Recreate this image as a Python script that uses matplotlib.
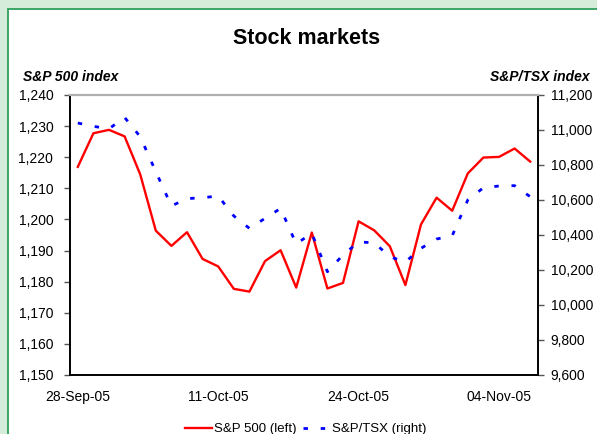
import numpy as np
import matplotlib
matplotlib.use("Agg")
import matplotlib.pyplot as plt
from matplotlib.patches import Rectangle
from matplotlib.ticker import FuncFormatter

plt.rcParams['font.family'] = ['Liberation Sans', 'DejaVu Sans']

# trading days 28-Sep-05 .. 08-Nov-05
dates = ['28-Sep-05', '29-Sep-05', '30-Sep-05', '03-Oct-05', '04-Oct-05', '05-Oct-05',
         '06-Oct-05', '07-Oct-05', '10-Oct-05', '11-Oct-05', '12-Oct-05', '13-Oct-05',
         '14-Oct-05', '17-Oct-05', '18-Oct-05', '19-Oct-05', '20-Oct-05', '21-Oct-05',
         '24-Oct-05', '25-Oct-05', '26-Oct-05', '27-Oct-05', '28-Oct-05', '31-Oct-05',
         '01-Nov-05', '02-Nov-05', '03-Nov-05', '04-Nov-05', '07-Nov-05', '08-Nov-05']

sp500 = [1216.9, 1227.7, 1228.8, 1226.7, 1214.5, 1196.4, 1191.5, 1195.9, 1187.3, 1184.9,
         1177.7, 1176.8, 1186.6, 1190.1, 1178.1, 1195.8, 1177.8, 1179.6, 1199.4, 1196.5,
         1191.4, 1178.9, 1198.4, 1207.0, 1202.8, 1214.8, 1219.9, 1220.1, 1222.8, 1218.6]

tsx = [11040, 11021, 11007, 11072, 10962, 10762, 10566, 10608, 10613, 10623,
       10509, 10438, 10495, 10552, 10349, 10410, 10190, 10286, 10360, 10356,
       10276, 10246, 10324, 10377, 10396, 10600, 10670, 10680, 10682, 10619]

tick_idx = [0, 9, 18, 27]

fig = plt.figure(figsize=(5.97, 4.34), dpi=100)
fig.patch.set_facecolor('#d5ecda')
# white chart panel with green frame, behind the axes
fig.add_artist(Rectangle((8 / 597, -0.01), 1, 1.01 - 9 / 434, transform=fig.transFigure,
                         facecolor='white', edgecolor='#2e9e5b', linewidth=1.3, zorder=-5))

ax = fig.add_axes([70 / 597, 1 - 375 / 434, (538 - 70) / 597, (375 - 95) / 434])
x = np.arange(len(dates))
l1, = ax.plot(x, sp500, color='#ff0000', linewidth=1.7)
ax.set_xlim(-0.5, len(dates) - 0.5)
ax.set_ylim(1150, 1240)
ax.set_yticks(np.arange(1150, 1241, 10))
ax.yaxis.set_major_formatter(FuncFormatter(lambda v, p: f'{v:,.0f}'))
ax.set_xticks(tick_idx)
ax.set_xticklabels([dates[i] for i in tick_idx])
ax.tick_params(axis='x', length=0, labelsize=10, pad=11)
ax.tick_params(axis='y', direction='out', length=4, width=1, color='#555555',
               labelsize=10, pad=8)

ax2 = ax.twinx()
l2, = ax2.plot(x, tsx, color='#0000ff', linewidth=2, linestyle=(0, (1.6, 4.6)))
ax2.set_ylim(9600, 11200)
ax2.set_yticks(np.arange(9600, 11201, 200))
ax2.yaxis.set_major_formatter(FuncFormatter(lambda v, p: f'{v:,.0f}'))
ax2.tick_params(axis='y', direction='out', length=4, width=1, color='#555555',
                labelsize=10, pad=5)

for a in (ax, ax2):
    a.spines['top'].set_color('#b0b0b0')
    a.spines['top'].set_linewidth(1.5)
    a.spines['left'].set_linewidth(1.2)
    a.spines['right'].set_linewidth(1.2)
    a.spines['bottom'].set_linewidth(1.2)

fig.text(307 / 597, 1 - 38 / 434, 'Stock markets', ha='center', va='center',
         fontsize=15.5, fontweight='bold')
fig.text(23 / 597, 1 - 77 / 434, 'S&P 500 index', ha='left', va='center',
         fontsize=10, fontweight='bold', style='italic')
fig.text(590 / 597, 1 - 77 / 434, 'S&P/TSX index', ha='right', va='center',
         fontsize=10, fontweight='bold', style='italic')

fig.legend([l1, l2], ['S&P 500 (left)', 'S&P/TSX (right)'], loc='center',
           bbox_to_anchor=(306 / 597, 1 - 429 / 434), ncol=2, frameon=False,
           fontsize=9.5, handlelength=2.0, columnspacing=0.5, handletextpad=0.2)

fig.savefig('out.png', dpi=100, facecolor=fig.get_facecolor())
